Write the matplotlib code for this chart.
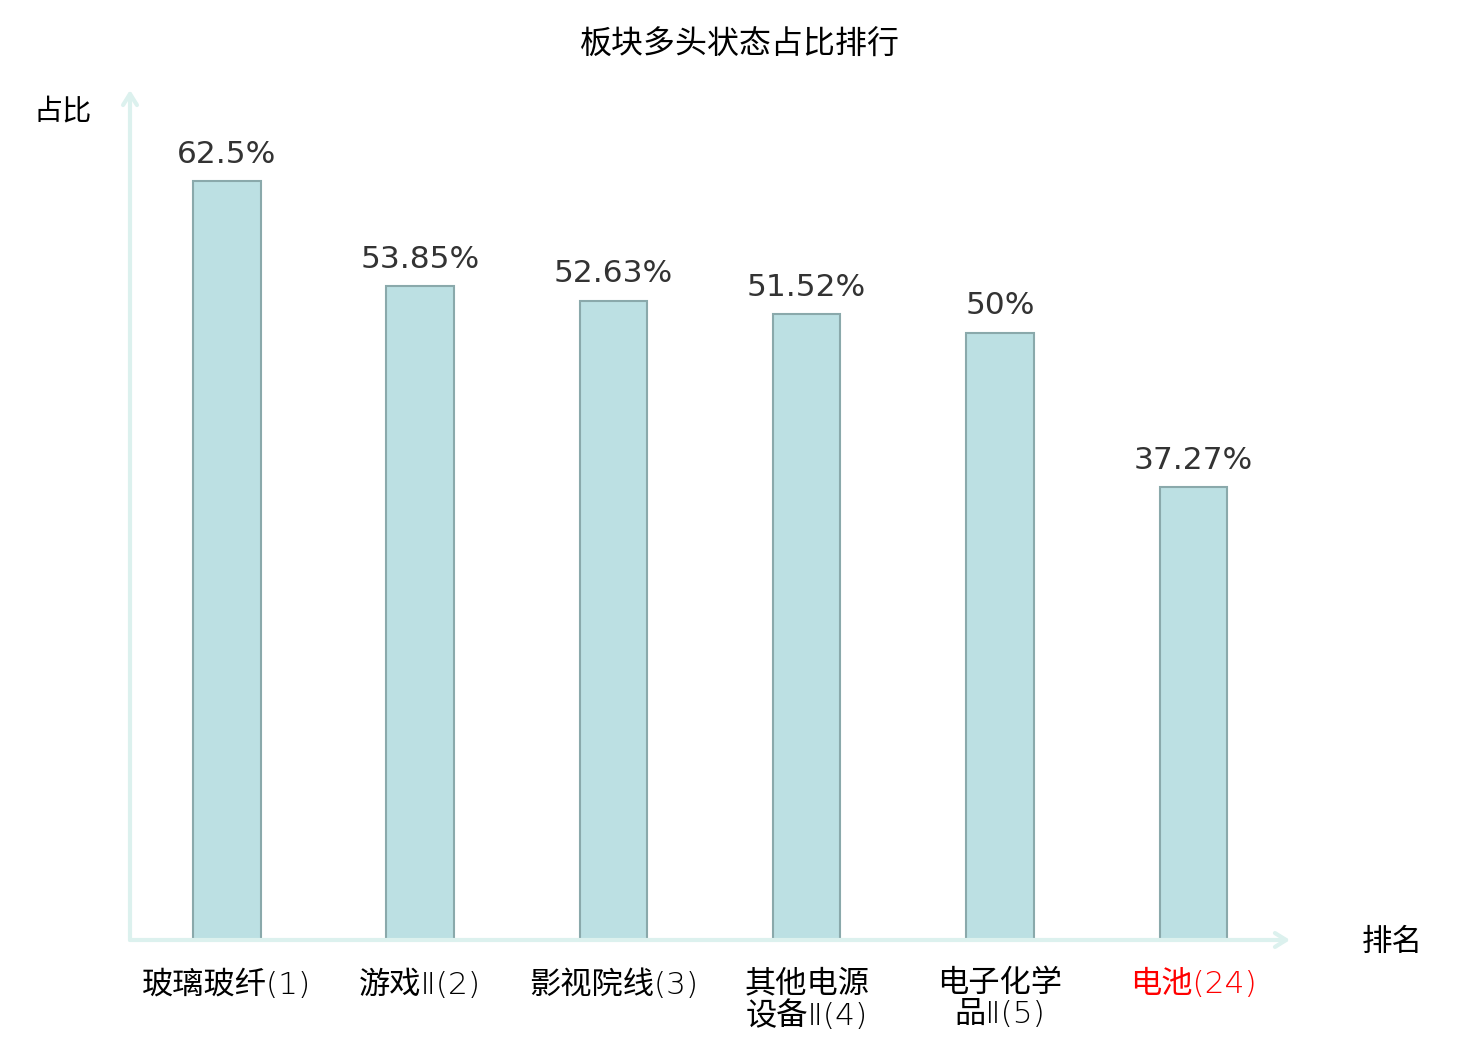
import matplotlib
matplotlib.use("Agg")
import matplotlib.pyplot as plt

categories = ["玻璃玻纤(1)", "游戏Ⅱ(2)", "影视院线(3)", "其他电源\n设备Ⅱ(4)", "电子化学\n品Ⅱ(5)", "电池(24)"]
values = [62.5, 53.85, 52.63, 51.52, 50, 37.27]
value_labels = ["62.5%", "53.85%", "52.63%", "51.52%", "50%", "37.27%"]
label_colors = ["black", "black", "black", "black", "black", "red"]

plt.rcParams['font.family'] = ['Noto Sans CJK SC', 'DejaVu Sans']

fig = plt.figure(figsize=(14.8, 10.4), dpi=100)
ax = fig.add_axes([130/1480, 100/1040, 1160/1480, 850/1040])

x = list(range(len(categories)))
ax.bar(x, values, width=0.35, color="#bce0e3", edgecolor="#8aa9ab", linewidth=1.5, zorder=2)

for xi, v, lab in zip(x, values, value_labels):
    ax.annotate(lab, (xi, v), xytext=(0, 9), textcoords="offset points",
                ha="center", va="bottom", fontsize=22.5, color="#333333",
                family="DejaVu Sans")

ax.set_xlim(-0.5, 5.5)
ax.set_ylim(0, 70)
for s in ax.spines.values():
    s.set_visible(False)
ax.set_yticks([])
ax.set_xticks(x)
ax.set_xticklabels(categories, fontsize=22.5, linespacing=1.08,
                   family=['DejaVu Sans', 'Noto Sans CJK SC'], fontweight='light')
for t, c in zip(ax.get_xticklabels(), label_colors):
    t.set_color(c)
ax.tick_params(axis="x", length=0, pad=21)

axis_color = "#dcf1ee"
ax.annotate("", xy=(0, 1), xytext=(0, 0), xycoords="axes fraction",
            arrowprops=dict(arrowstyle="->,head_length=0.8,head_width=0.5", color=axis_color, lw=3,
                            shrinkA=0, shrinkB=0), annotation_clip=False)
ax.annotate("", xy=(1, 0), xytext=(0, 0), xycoords="axes fraction",
            arrowprops=dict(arrowstyle="->,head_length=0.8,head_width=0.5", color=axis_color, lw=3,
                            shrinkA=0, shrinkB=0), annotation_clip=False)

fig.text(63/1480, 1 - 111/1040, "占比", fontsize=21, ha="center", va="center")
fig.text(1392/1480, 1 - 942/1040, "排名", fontsize=22, ha="center", va="center")
fig.text(740/1480, 1 - 45/1040, "板块多头状态占比排行", fontsize=23, ha="center", va="center")

fig.savefig("out.png", dpi=100)
